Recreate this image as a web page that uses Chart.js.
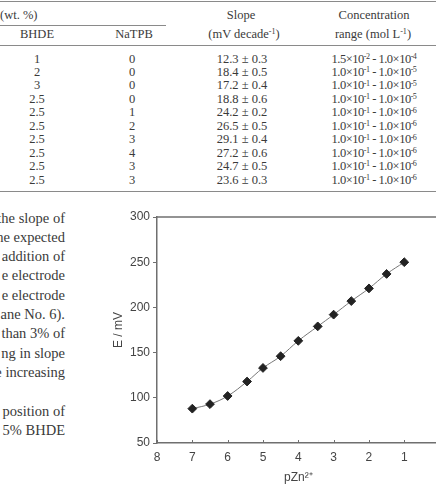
<!DOCTYPE html>
<html>
<head>
<meta charset="utf-8">
<script src="https://cdn.jsdelivr.net/npm/chart.js@4.4.1/dist/chart.umd.min.js"></script>
<style>
  html, body { margin: 0; padding: 0; background: #fff; overflow: hidden; }
  body { width: 436px; height: 484px; position: relative; font-family: "Liberation Serif", "DejaVu Serif", serif; color: #3a3a3a; }
  .rule { position: absolute; height: 0; border-top: 1.5px solid #8a8a8a; }
  .cell { position: absolute; height: 16px; line-height: 16px; text-align: center; white-space: nowrap; font-size: 12.5px; }
  .range { letter-spacing: -0.5px; }
  .txt { position: absolute; right: 371px; height: 18px; line-height: 18px; text-align: right; white-space: nowrap; font-size: 14.5px; }
  sup { font-size: 65%; vertical-align: 0; position: relative; top: -0.45em; }
  #plot { position: absolute; left: 100px; top: 200px; }
</style>
</head>
<body>
<div id="page"></div>
<canvas id="plot" width="345" height="290"></canvas>
<script>
// table values
const bhde = ['1', '2', '3', '2.5', '2.5', '2.5', '2.5', '2.5', '2.5', '2.5'];
const natpb = ['0', '0', '0', '0', '1', '2', '3', '4', '3', '3'];
const slopes = ['12.3 ± 0.3', '18.4 ± 0.5', '17.2 ± 0.4', '18.8 ± 0.6', '24.2 ± 0.2',
                '26.5 ± 0.5', '29.1 ± 0.4', '27.2 ± 0.6', '24.7 ± 0.5', '23.6 ± 0.3'];
const rangeHigh = ['1.5', '1.0', '1.0', '1.0', '1.0', '1.0', '1.0', '1.0', '1.0', '1.0'];
const rangeHighExp = [-2, -1, -1, -1, -1, -1, -1, -1, -1, -1];
const rangeLowExp = [-4, -5, -5, -5, -6, -6, -6, -6, -6, -6];

// body text (right part of the column, cut at the left)
const textLines = ['the slope of', 'the expected', 'addition of', 'e electrode', 'e electrode',
                   'ane No. 6).', 'than 3% of', 'ng in slope', 'e increasing', '',
                   'position of', '5% BHDE'];

// chart values
const pZn = [7.0, 6.5, 6.0, 5.45, 5.0, 4.5, 4.0, 3.45, 3.0, 2.5, 2.0, 1.5, 1.0];
const potential = [88, 93, 102, 118, 133, 146, 163, 179, 192, 207, 221, 237, 250];
const xTicks = [8, 7, 6, 5, 4, 3, 2, 1];
const yTicks = [50, 100, 150, 200, 250, 300];

const page = document.getElementById('page');
function add(html, cls, style) {
  const d = document.createElement('div');
  d.className = cls;
  d.style.cssText = style;
  d.innerHTML = html;
  page.appendChild(d);
}
function cell(html, cx, cy, extra) {
  add(html, 'cell' + (extra ? ' ' + extra : ''), 'left:' + (cx - 70) + 'px;width:140px;top:' + (cy - 8) + 'px;');
}

// rules
add('', 'rule', 'left:0;width:436px;top:1px;');
add('', 'rule', 'left:0;width:166px;top:25px;');
add('', 'rule', 'left:0;width:436px;top:45px;');
add('', 'rule', 'left:0;width:436px;top:191px;');

// header
add('(wt. %)', 'cell', 'left:0;top:7px;text-align:left;');
cell('Slope', 241, 15);
cell('Concentration', 374, 15);
cell('BHDE', 37, 34);
cell('NaTPB', 134, 34);
cell('(mV decade<sup>-1</sup>)', 244, 34);
cell('range (mol L<sup>-1</sup>)', 373, 34);

for (let i = 0; i < bhde.length; i += 1) {
  const cy = 58.5 + i * 13.45;
  cell(bhde[i], 37, cy);
  cell(natpb[i], 132, cy);
  cell(slopes[i], 242, cy);
  cell(rangeHigh[i] + '×10<sup>' + rangeHighExp[i] + '</sup> - 1.0×10<sup>' + rangeLowExp[i] + '</sup>', 374, cy, 'range');
}

for (let i = 0; i < textLines.length; i += 1) {
  add(textLines[i], 'txt', 'top:' + (208.5 + i * 19.3) + 'px;');
}

const frameColor = '#6f6f6f';
const labelFont = { family: 'Liberation Sans, Arial, sans-serif', size: 12 };

const framePlugin = {
  id: 'frame',
  afterDraw(chart) {
    const { ctx, chartArea } = chart;
    const xs = chart.scales.x;
    ctx.save();
    ctx.strokeStyle = frameColor;
    ctx.lineWidth = 1.5;
    ctx.beginPath();
    ctx.moveTo(chartArea.left, chartArea.top);
    ctx.lineTo(chartArea.right, chartArea.top);
    ctx.stroke();
    ctx.lineWidth = 1;
    xTicks.forEach(v => {
      const px = Math.round(xs.getPixelForValue(v)) + 0.5;
      ctx.beginPath();
      ctx.moveTo(px, chartArea.bottom);
      ctx.lineTo(px, chartArea.bottom - 3);
      ctx.stroke();
    });
    ctx.restore();
  }
};

new Chart(document.getElementById('plot'), {
  type: 'line',
  data: {
    datasets: [{
      data: pZn.map((x, i) => ({ x: x, y: potential[i] })),
      borderColor: '#777',
      borderWidth: 1,
      tension: 0.4,
      pointStyle: 'rectRot',
      pointRadius: 4.4,
      pointBackgroundColor: '#222',
      pointBorderColor: '#222',
      pointBorderWidth: 1
    }]
  },
  options: {
    responsive: false,
    animation: false,
    layout: { padding: { top: 17, right: 4.8, bottom: 0, left: 0 } },
    plugins: { legend: { display: false }, tooltip: { enabled: false } },
    scales: {
      x: {
        type: 'linear',
        reverse: true,
        min: 0,
        max: 8,
        afterFit: s => { s.height = 47; },
        afterBuildTicks: s => { s.ticks = xTicks.map(v => ({ value: v })); },
        grid: { display: false, drawTicks: false },
        border: { color: frameColor, width: 1.5 },
        ticks: { color: '#444', font: labelFont, padding: 7, maxRotation: 0 },
        title: { display: true, text: 'pZn²⁺', color: '#444', font: labelFont, padding: { top: 0, bottom: 5 } }
      },
      y: {
        min: 50,
        max: 300,
        afterFit: s => { s.width = 57; },
        afterBuildTicks: s => { s.ticks = yTicks.map(v => ({ value: v })); },
        grid: { drawOnChartArea: false, tickLength: 4, tickColor: frameColor, tickWidth: 1 },
        border: { color: frameColor, width: 1.5 },
        ticks: { color: '#444', font: labelFont, padding: 3 },
        title: { display: true, text: 'E / mV', color: '#444', font: labelFont, padding: { top: 11, bottom: 0 } }
      }
    }
  },
  plugins: [framePlugin]
});
</script>
</body>
</html>
